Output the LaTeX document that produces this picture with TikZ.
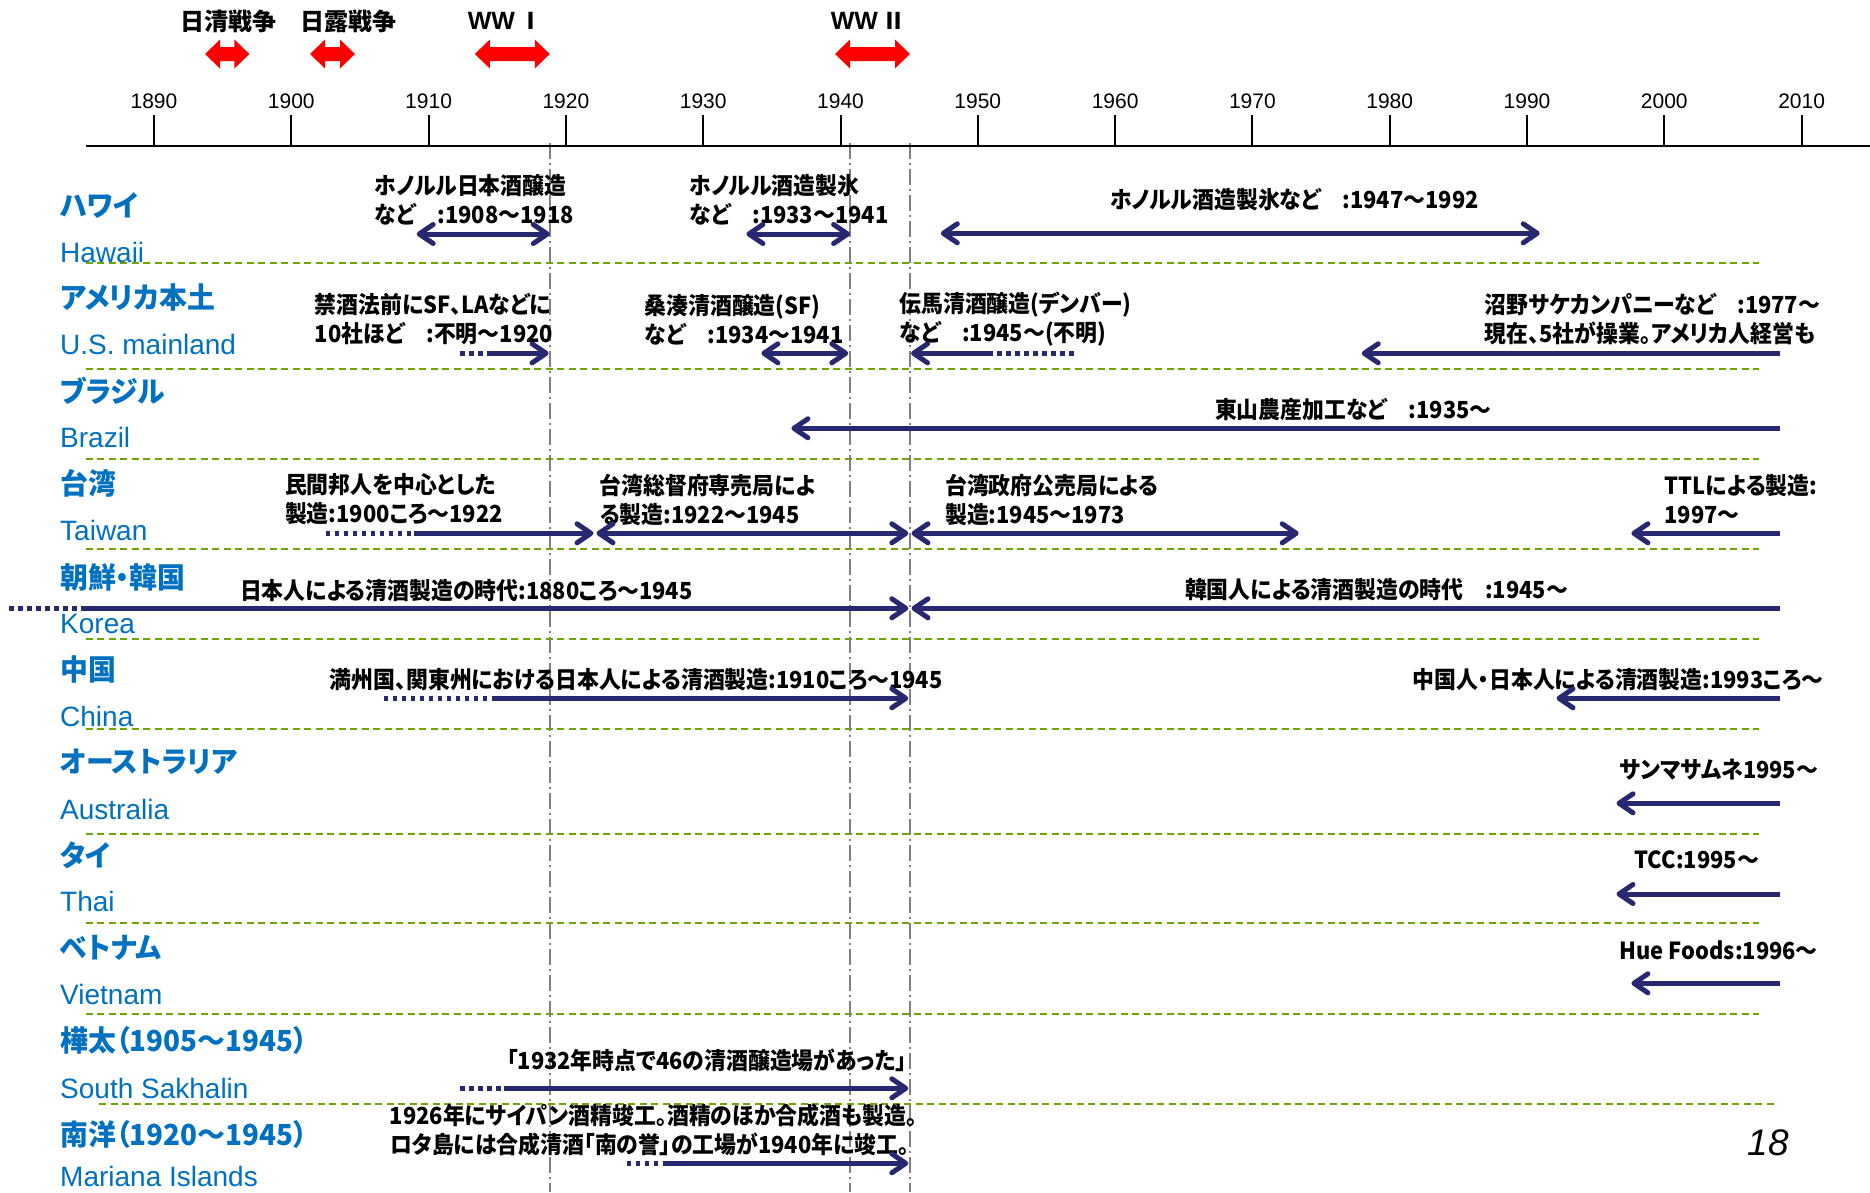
\documentclass[tikz,border=0pt]{standalone}
\usepackage{fontspec}
\setmainfont{Liberation Sans}
\newfontfamily\jpfont{Noto Sans CJK JP}[RawFeature=+palt]
\newfontfamily\annfont{Noto Sans CJK JP}[RawFeature=+palt,FakeStretch=0.93]
\newfontfamily\labfont{Noto Sans CJK JP}[RawFeature=+palt,FakeStretch=0.96]
\usetikzlibrary{arrows.meta}
\definecolor{navy}{RGB}{40,40,112}
\definecolor{lblue}{RGB}{0,112,192}
\definecolor{sepgreen}{RGB}{110,165,0}
\definecolor{vgray}{RGB}{128,128,128}
\newcommand\warrow[3]{\fill[red] (#1,#3) -- ({#1+15},{#3-14.5}) -- ({#1+15},{#3-7}) -- ({#2-15},{#3-7}) -- ({#2-15},{#3-14.5}) -- (#2,#3) -- ({#2-15},{#3+14.5}) -- ({#2-15},{#3+7}) -- ({#1+15},{#3+7}) -- ({#1+15},{#3+14.5}) -- cycle;}
\begin{document}
\begin{tikzpicture}[x=1pt,y=-1pt,
  >={Straight Barb[length=14pt,width=19pt,line cap=round,line join=round]},
  arr/.style={draw=navy,line width=5pt},
  dotseg/.style={draw=navy,line width=4.5pt,dash pattern=on 4.5pt off 4.5pt},
  sep/.style={draw=sepgreen,line width=2.2pt,dash pattern=on 7pt off 4.5pt},
  vline/.style={draw=vgray,line width=1.3pt,dash pattern=on 16pt off 4pt on 2pt off 4pt},
  ann/.style={font=\annfont\bfseries\fontsize{23.5}{29}\selectfont,anchor=west,inner sep=0pt,align=left},
  jpl/.style={font=\labfont\bfseries\fontsize{29}{32}\selectfont,text=lblue,anchor=west,inner sep=0pt},
  enl/.style={font=\fontsize{28}{30}\selectfont,text=lblue,anchor=west,inner sep=0pt},
  yrl/.style={font=\fontsize{21}{24}\selectfont,inner sep=0pt},
  warl/.style={font=\jpfont\bfseries\fontsize{24}{26}\selectfont,inner sep=0pt},
  wwl/.style={font=\bfseries\fontsize{25}{28}\selectfont,inner sep=0pt}]
\useasboundingbox (0,0) rectangle (1870,1192);
% separators
\foreach \yy in {263.3,368.7,458.7,548.7,638.7,728.7,833.7,923.3,1013.7}
  \draw[sep] (85.7,\yy) -- (1759,\yy);
\draw[sep] (99,1103.7) -- (1775,1103.7);
% vertical war boundaries
\foreach \xx in {550,850,910}
  \draw[vline] (\xx,143) -- (\xx,1192);
% time axis
\draw[line width=2.5pt] (86,146) -- (1870,146);
\foreach \k in {0,...,12}{
  \pgfmathsetmacro\tx{154+137.3*\k}
  \pgfmathtruncatemacro\yr{1890+10*\k}
  \draw[line width=2pt] (\tx,115) -- (\tx,146);
  \node[yrl] (yr\yr) at (\tx,101.7) {\yr};
}
% wars
\warrow{205}{249.4}{54}
\warrow{310}{355}{54}
\warrow{474.8}{549.8}{54}
\warrow{835}{910}{54}
\node[warl] (w1) at (228,21) {日清戦争};
\node[warl] (w2) at (348,21) {日露戦争};
\node[wwl] (w3) at (505,21) {WW\,{\jpfont\fontsize{23}{26}\selectfont Ⅰ}};
\node[wwl] (w4) at (868,21) {WW\,{\jpfont\fontsize{23}{26}\selectfont Ⅱ}};
% country labels
\node[jpl] (c1j) at (60,205) {ハワイ};
\node[enl] (c1e) at (60,252) {Hawaii};
\node[jpl] (c2j) at (60,297.5) {アメリカ本土};
\node[enl] (c2e) at (60,344) {U.S. mainland};
\node[jpl] (c3j) at (60,390.5) {ブラジル};
\node[enl] (c3e) at (60,437) {Brazil};
\node[jpl] (c4j) at (60,483) {台湾};
\node[enl] (c4e) at (60,530) {Taiwan};
\node[jpl] (c5j) at (60,577) {朝鮮・韓国};
\node[enl] (c5e) at (60,624) {Korea};
\node[jpl] (c6j) at (60,669) {中国};
\node[enl] (c6e) at (60,716) {China};
\node[jpl] (c7j) at (60,762) {オーストラリア};
\node[enl] (c7e) at (60,809) {Australia};
\node[jpl] (c8j) at (60,855) {タイ};
\node[enl] (c8e) at (60,901) {Thai};
\node[jpl] (c9j) at (60,948) {ベトナム};
\node[enl] (c9e) at (60,994) {Vietnam};
\node[jpl] (c10j) at (60,1040) {樺太（1905～1945）};
\node[enl] (c10e) at (60,1088) {South Sakhalin};
\node[jpl] (c11j) at (60,1134) {南洋（1920～1945）};
\node[enl] (c11e) at (60,1176) {Mariana Islands};
% annotations
\node[ann] (t1) at (374.7,199.5) {ホノルル日本酒醸造\\など　:1908～1918};
\node[ann] (t2) at (689.4,199.5) {ホノルル酒造製氷\\など　:1933～1941};
\node[ann] (t3) at (1110,200) {ホノルル酒造製氷など　:1947～1992};
\node[ann] (t4) at (314.7,319.5) {禁酒法前にSF、LAなどに\\10社ほど　:不明～1920};
\node[ann] (t5) at (644.5,319.5) {桑湊清酒醸造(SF)\\など　:1934～1941};
\node[ann] (t6) at (899.3,319.5) {伝馬清酒醸造(デンバー)\\など　:1945～(不明)};
\node[ann] (t7) at (1484.6,319.5) {沼野サケカンパニーなど　:1977～\\現在、5社が操業。アメリカ人経営も};
\node[ann] (t8) at (1214.8,410) {東山農産加工など　:1935～};
\node[ann] (t9) at (284.8,499.5) {民間邦人を中心とした\\製造:1900ころ～1922};
\node[ann] (t10) at (599.5,499.5) {台湾総督府専売局によ\\る製造:1922～1945};
\node[ann] (t11) at (945,499.5) {台湾政府公売局による\\製造:1945～1973};
\node[ann] (t12) at (1664.4,499.5) {TTLによる製造:\\1997～};
\node[ann] (t13) at (239.8,591) {日本人による清酒製造の時代:1880ころ～1945};
\node[ann] (t14) at (1184.8,590) {韓国人による清酒製造の時代　:1945～};
\node[ann] (t15) at (329.7,680) {満州国、関東州における日本人による清酒製造:1910ころ～1945};
\node[ann] (t16) at (1412.6,680) {中国人・日本人による清酒製造:1993ころ～};
\node[ann] (t17) at (1619.5,770) {サンマサムネ1995～};
\node[ann] (t18) at (1634.4,860) {TCC:1995～};
\node[ann] (t19) at (1619.5,950.7) {Hue Foods:1996～};
\node[ann] (t20) at (506.6,1060) {「1932年時点で46の清酒醸造場があった」};
\node[ann] (t21) at (389.7,1130) {1926年にサイパン酒精竣工。酒精のほか合成酒も製造。\\ロタ島には合成清酒「南の誉」の工場が1940年に竣工。};
% arrow end points
\coordinate (a1s) at (416.7,234);   \coordinate (a1e) at (549.8,234);
\coordinate (a2s) at (746.4,234);   \coordinate (a2e) at (850.1,234);
\coordinate (a3s) at (940.8,233.3); \coordinate (a3e) at (1539.7,233.3);
\coordinate (a4d) at (460.4,353.3); \coordinate (a4s) at (488.6,353.3); \coordinate (a4e) at (548.6,353.3);
\coordinate (a5s) at (761.4,353.3); \coordinate (a5e) at (848.3,353.3);
\coordinate (a6d) at (1073.9,353.3); \coordinate (a6s) at (990,353.3); \coordinate (a6e) at (911,353.3);
\coordinate (a7s) at (1780,353.3);  \coordinate (a7e) at (1361.7,353.3);
\coordinate (a8s) at (1780,428.3);  \coordinate (a8e) at (791.4,428.3);
\coordinate (a9d) at (325.5,533.3); \coordinate (a9s) at (413.7,533.3); \coordinate (a9e) at (593.5,533.3);
\coordinate (a10s) at (596.5,533.3); \coordinate (a10e) at (908.3,533.3);
\coordinate (a11s) at (911.5,533.3); \coordinate (a11e) at (1298.7,533.3);
\coordinate (a12s) at (1780,533.3); \coordinate (a12e) at (1631.4,533.3);
\coordinate (a13d) at (9,608.3);    \coordinate (a13s) at (84,608.3); \coordinate (a13e) at (908.3,608.3);
\coordinate (a14s) at (1780,608.3); \coordinate (a14e) at (911.5,608.3);
\coordinate (a15d) at (383.7,698.3); \coordinate (a15s) at (491.6,698.3); \coordinate (a15e) at (908.3,698.3);
\coordinate (a16s) at (1780,698.3); \coordinate (a16e) at (1556.5,698.3);
\coordinate (a17s) at (1780,803.3); \coordinate (a17e) at (1616.5,803.3);
\coordinate (a18s) at (1780,894);   \coordinate (a18e) at (1616.5,894);
\coordinate (a19s) at (1780,983.3); \coordinate (a19e) at (1631.4,983.3);
\coordinate (a20d) at (460.4,1088.3); \coordinate (a20s) at (503.6,1088.3); \coordinate (a20e) at (908.3,1088.3);
\coordinate (a21d) at (626.5,1163.3); \coordinate (a21s) at (665.5,1163.3); \coordinate (a21e) at (908.3,1163.3);
% arrows
\draw[arr,<->] (a1s) -- (a1e);
\draw[arr,<->] (a2s) -- (a2e);
\draw[arr,<->] (a3s) -- (a3e);
\draw[dotseg] (a4d) -- (a4s); \draw[arr,->] (a4s) -- (a4e);
\draw[arr,<->] (a5s) -- (a5e);
\draw[dotseg] (a6d) -- (a6s); \draw[arr,->] (a6s) -- (a6e);
\draw[arr,->] (a7s) -- (a7e);
\draw[arr,->] (a8s) -- (a8e);
\draw[dotseg] (a9d) -- (a9s); \draw[arr,->] (a9s) -- (a9e);
\draw[arr,<->] (a10s) -- (a10e);
\draw[arr,<->] (a11s) -- (a11e);
\draw[arr,->] (a12s) -- (a12e);
\draw[dotseg] (a13d) -- (a13s); \draw[arr,->] (a13s) -- (a13e);
\draw[arr,->] (a14s) -- (a14e);
\draw[dotseg] (a15d) -- (a15s); \draw[arr,->] (a15s) -- (a15e);
\draw[arr,->] (a16s) -- (a16e);
\draw[arr,->] (a17s) -- (a17e);
\draw[arr,->] (a18s) -- (a18e);
\draw[arr,->] (a19s) -- (a19e);
\draw[dotseg] (a20d) -- (a20s); \draw[arr,->] (a20s) -- (a20e);
\draw[dotseg] (a21d) -- (a21s); \draw[arr,->] (a21s) -- (a21e);
% page number
\node[font=\itshape\fontsize{37}{40}\selectfont,inner sep=0pt] (pg) at (1768,1143) {18};
\end{tikzpicture}
\end{document}
